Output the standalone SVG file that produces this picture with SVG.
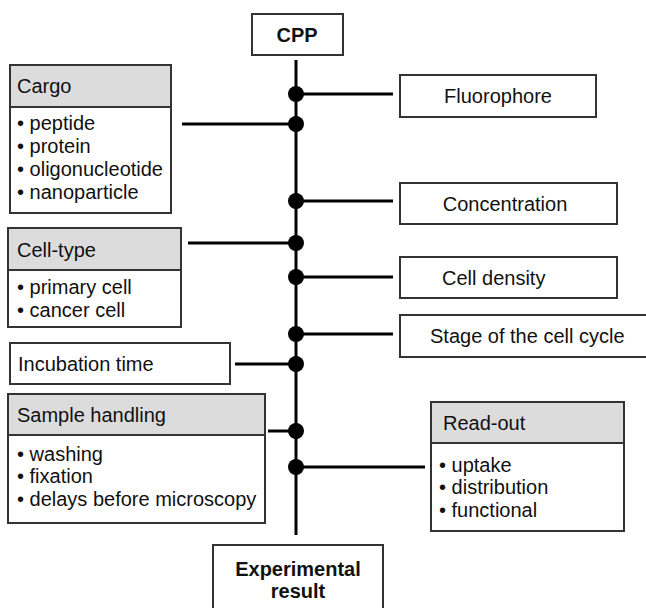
<svg xmlns="http://www.w3.org/2000/svg" width="646" height="608" viewBox="0 0 646 608">
<style>
.box{fill:#fff;stroke:#333;stroke-width:2}
.hdr{fill:#dcdcdc;stroke:#333;stroke-width:2}
text{font-family:"Liberation Sans",Arial,sans-serif;font-size:20px;fill:#111}
.b{font-weight:bold;text-anchor:middle}
.c{text-anchor:middle}
.ln{stroke:#000;stroke-width:3;fill:none}
.dot{fill:#000}
</style>
<rect width="646" height="608" fill="#fff"/>
<g id="connectors">
<line class="ln" x1="296" y1="60" x2="296" y2="535"/>
<line class="ln" x1="296" y1="94" x2="393" y2="94"/>
<line class="ln" x1="182" y1="124" x2="296" y2="124"/>
<line class="ln" x1="296" y1="201" x2="393" y2="201"/>
<line class="ln" x1="188" y1="243" x2="296" y2="243"/>
<line class="ln" x1="296" y1="277" x2="393" y2="277"/>
<line class="ln" x1="296" y1="334" x2="393" y2="334"/>
<line class="ln" x1="235" y1="364" x2="296" y2="364"/>
<line class="ln" x1="268" y1="431" x2="296" y2="431"/>
<line class="ln" x1="296" y1="467" x2="425" y2="467"/>
<circle class="dot" cx="296" cy="94" r="8"/>
<circle class="dot" cx="296" cy="124" r="8"/>
<circle class="dot" cx="296" cy="201" r="8"/>
<circle class="dot" cx="296" cy="243" r="8"/>
<circle class="dot" cx="296" cy="277" r="8"/>
<circle class="dot" cx="296" cy="334" r="8"/>
<circle class="dot" cx="296" cy="364" r="8"/>
<circle class="dot" cx="296" cy="431" r="8"/>
<circle class="dot" cx="296" cy="467" r="8"/>
</g>
<g id="cpp">
<rect class="box" x="252" y="14" width="91" height="41"/>
<text class="b" x="297" y="42">CPP</text>
</g>
<g id="fluorophore">
<rect class="box" x="400" y="75" width="196" height="42"/>
<text class="c" x="498" y="103">Fluorophore</text>
</g>
<g id="cargo">
<rect class="box" x="10" y="65" width="161" height="148"/>
<rect class="hdr" x="10" y="65" width="161" height="42"/>
<text x="17" y="93">Cargo</text>
<text x="17" y="130">• peptide</text>
<text x="17" y="153">• protein</text>
<text x="17" y="176">• oligonucleotide</text>
<text x="17" y="199">• nanoparticle</text>
</g>
<g id="concentration">
<rect class="box" x="400" y="183" width="217" height="41"/>
<text class="c" x="505" y="211">Concentration</text>
</g>
<g id="cell-type">
<rect class="box" x="8" y="228" width="173" height="99"/>
<rect class="hdr" x="8" y="228" width="173" height="42"/>
<text x="17" y="257">Cell-type</text>
<text x="17" y="294">• primary cell</text>
<text x="17" y="317">• cancer cell</text>
</g>
<g id="cell-density">
<rect class="box" x="400" y="257" width="217" height="41"/>
<text x="442" y="285">Cell density</text>
</g>
<g id="stage">
<rect class="box" x="400" y="315" width="250" height="42"/>
<text x="430" y="343">Stage of the cell cycle</text>
</g>
<g id="incubation">
<rect class="box" x="10" y="343" width="220" height="41"/>
<text x="18" y="371">Incubation time</text>
</g>
<g id="sample-handling">
<rect class="box" x="8" y="394" width="257" height="129"/>
<rect class="hdr" x="8" y="394" width="257" height="41"/>
<text x="17" y="422">Sample handling</text>
<text x="17" y="461">• washing</text>
<text x="17" y="483">• fixation</text>
<text x="17" y="506">• delays before microscopy</text>
</g>
<g id="read-out">
<rect class="box" x="431" y="402" width="193" height="129"/>
<rect class="hdr" x="431" y="402" width="193" height="41"/>
<text x="443" y="430">Read-out</text>
<text x="439" y="472">• uptake</text>
<text x="439" y="494">• distribution</text>
<text x="439" y="517">• functional</text>
</g>
<g id="result">
<rect class="box" x="213" y="545" width="170" height="70"/>
<text class="b" x="298" y="576">Experimental</text>
<text class="b" x="298" y="598">result</text>
</g>
</svg>
